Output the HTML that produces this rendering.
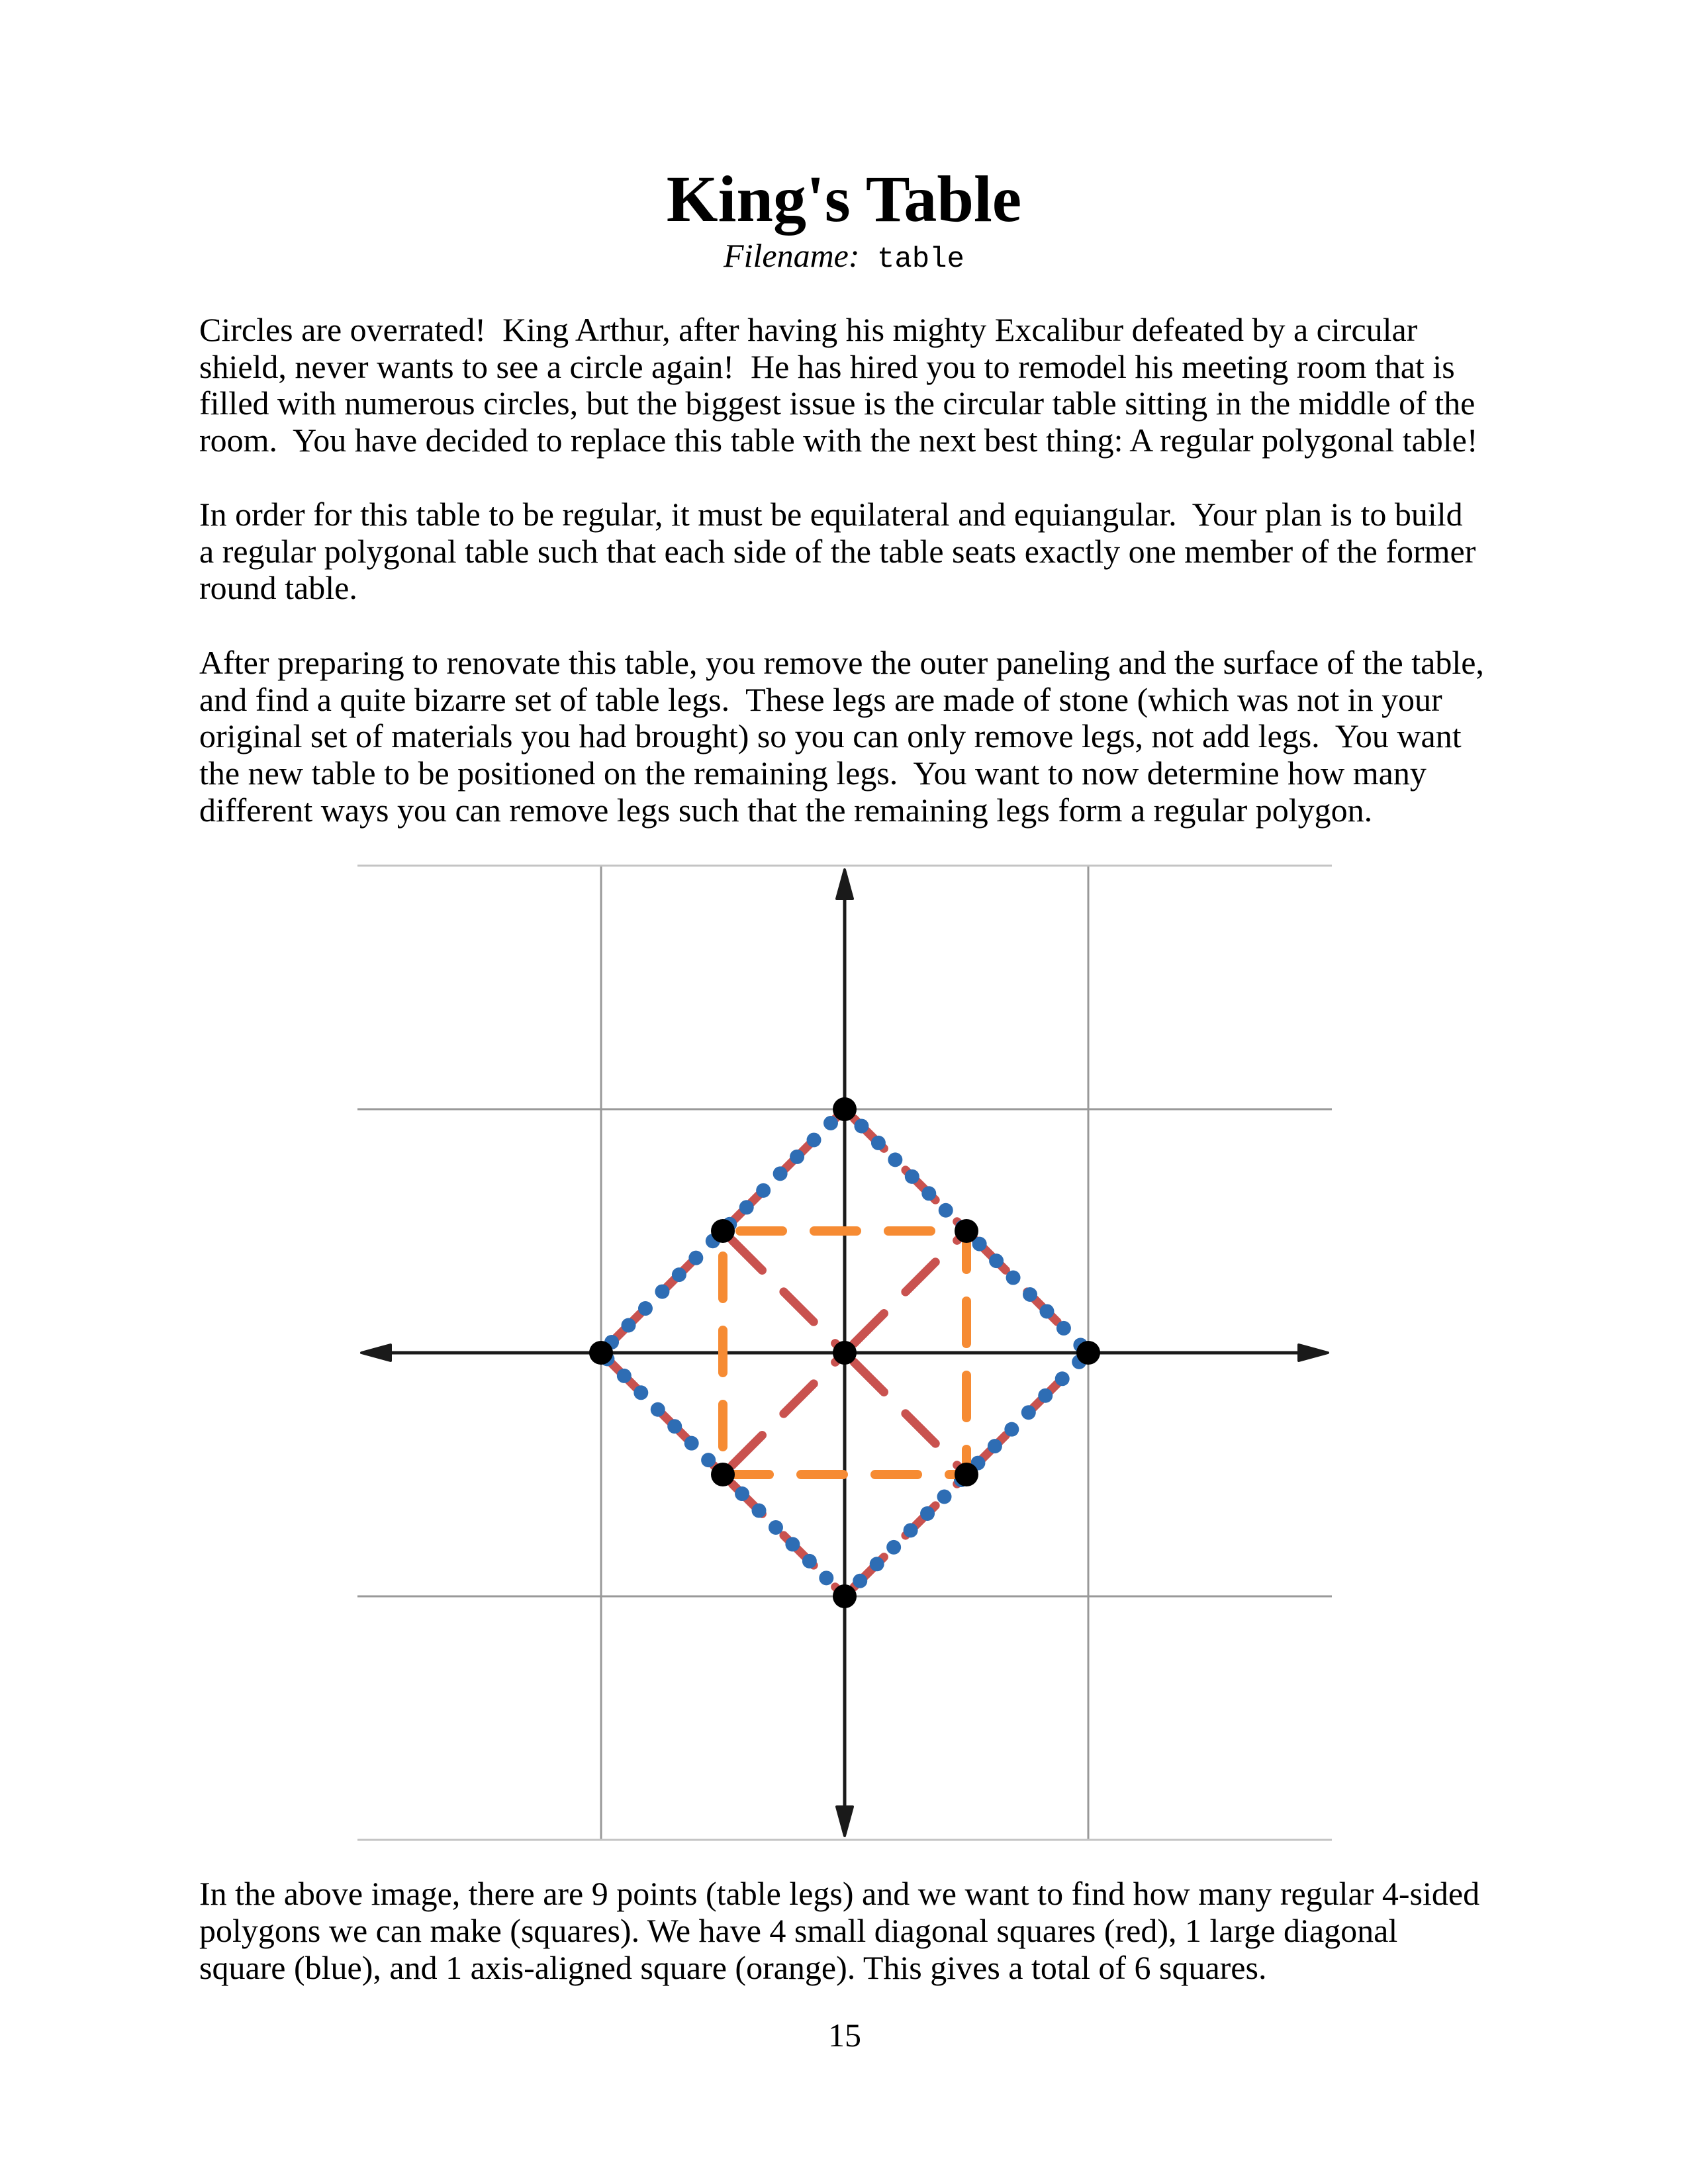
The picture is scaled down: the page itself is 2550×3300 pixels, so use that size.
<!DOCTYPE html>
<html><head><meta charset="utf-8"><style>
html,body{margin:0;padding:0;background:#fff;}
svg{display:block;}
text{white-space:pre;}
.b{font-family:"Liberation Serif",serif;font-size:50px;fill:#000;}
</style></head><body>
<svg id="page" width="2550" height="3300" viewBox="0 0 2550 3300" xmlns="http://www.w3.org/2000/svg" xml:space="preserve">
<rect width="2550" height="3300" fill="#fff"/>
<text x="1275" y="334" text-anchor="middle" font-family="Liberation Serif, serif" font-weight="bold" font-size="100">King's Table</text>
<text x="1275" y="403" text-anchor="middle" class="b"><tspan font-style="italic">Filename:</tspan><tspan font-family="Liberation Mono, monospace" font-size="44"> table</tspan></text>
<g>
<text x="301" y="515" class="b">Circles are overrated!  King Arthur, after having his mighty Excalibur defeated by a circular</text>
<text x="301" y="571" class="b">shield, never wants to see a circle again!  He has hired you to remodel his meeting room that is</text>
<text x="301" y="626" class="b">filled with numerous circles, but the biggest issue is the circular table sitting in the middle of the</text>
<text x="301" y="682" class="b">room.  You have decided to replace this table with the next best thing: A regular polygonal table!</text>
</g>
<g>
<text x="301" y="794" class="b">In order for this table to be regular, it must be equilateral and equiangular.  Your plan is to build</text>
<text x="301" y="850" class="b">a regular polygonal table such that each side of the table seats exactly one member of the former</text>
<text x="301" y="905" class="b">round table.</text>
</g>
<g>
<text x="301" y="1018" class="b">After preparing to renovate this table, you remove the outer paneling and the surface of the table,</text>
<text x="301" y="1074" class="b">and find a quite bizarre set of table legs.  These legs are made of stone (which was not in your</text>
<text x="301" y="1129" class="b">original set of materials you had brought) so you can only remove legs, not add legs.  You want</text>
<text x="301" y="1185" class="b">the new table to be positioned on the remaining legs.  You want to now determine how many</text>
<text x="301" y="1241" class="b">different ways you can remove legs such that the remaining legs form a regular polygon.</text>
</g>
<g id="chart"></g>
<g>
<text x="301" y="2878" class="b">In the above image, there are 9 points (table legs) and we want to find how many regular 4-sided</text>
<text x="301" y="2934" class="b">polygons we can make (squares). We have 4 small diagonal squares (red), 1 large diagonal</text>
<text x="301" y="2990" class="b">square (blue), and 1 axis-aligned square (orange). This gives a total of 6 squares.</text>
</g>
<text x="1276" y="3092" text-anchor="middle" class="b">15</text>
</svg>
<script>
const gridTicks = [-1, 1];
const edgeTicks = [-2, 2];
const legX = [0, 0.5, 1, 0.5, 0, -0.5, -1, -0.5, 0];
const legY = [1, 0.5, 0, -0.5, -1, -0.5, 0, 0.5, 0];
const redSquares = [
  [[0,1],[0.5,0.5],[0,0],[-0.5,0.5]],
  [[0.5,0.5],[1,0],[0.5,-0.5],[0,0]],
  [[0,0],[0.5,-0.5],[0,-1],[-0.5,-0.5]],
  [[-0.5,0.5],[0,0],[-0.5,-0.5],[-1,0]]
];
const blueSquare = [[0,1],[1,0],[0,-1],[-1,0]];
const orangeSquare = [[-0.5,0.5],[0.5,0.5],[0.5,-0.5],[-0.5,-0.5]];

const NS = "http://www.w3.org/2000/svg";
const chart = document.getElementById('chart');
const ox = 1276, oy = 2044, unit = 368;
const sx = v => ox + v * unit;
const sy = v => oy - v * unit;
function mk(tag, attrs) {
  const e = document.createElementNS(NS, tag);
  for (const k in attrs) e.setAttribute(k, attrs[k]);
  chart.appendChild(e);
  return e;
}
gridTicks.forEach(t => {
  const v = mk('line', {x1: sx(t), y1: sy(2), x2: sx(t), y2: sy(-2), stroke: '#999', 'stroke-width': 3});
  
  
  const h = mk('line', {x1: sx(-2), y1: sy(t), x2: sx(2), y2: sy(t), stroke: '#999', 'stroke-width': 3});
  
  
});
edgeTicks.forEach(t => {
  const h = mk('line', {x1: sx(-2), y1: sy(t), x2: sx(2), y2: sy(t), stroke: '#c4c4c4', 'stroke-width': 3});
  
  
});
const axCol = '#1a1a1a';
const xa = mk('line', {x1: sx(-2)+40, y1: sy(0), x2: sx(2)-40, y2: sy(0), stroke: axCol, 'stroke-width': 5});


const ya = mk('line', {x1: sx(0), y1: sy(2)+40, x2: sx(0), y2: sy(-2)-40, stroke: axCol, 'stroke-width': 5});


function arrow(tx, ty, dx, dy, name) {
  const L = 44, W = 12;
  const bx = tx - dx*L, by = ty - dy*L;
  const px = -dy*W, py = dx*W;
  const p = mk('polygon', {points: `${tx},${ty} ${bx+px},${by+py} ${bx-px},${by-py}`, fill: axCol, stroke: axCol, 'stroke-width': 4, 'stroke-linejoin': 'round'});
  
  
}
arrow(sx(0), sy(2)+6, 0, -1, 'arrow-up');
arrow(sx(0), sy(-2)-6, 0, 1, 'arrow-down');
arrow(sx(-2)+6, sy(0), -1, 0, 'arrow-left');
arrow(sx(2)-6, sy(0), 1, 0, 'arrow-right');
function poly(pts, attrs, name) {
  const s = pts.map(p => sx(p[0]) + ',' + sy(p[1])).join(' ');
  const e = mk('polygon', Object.assign({points: s, fill: 'none'}, attrs));
  
  
}
redSquares.forEach(sq => {
  sq.forEach((p, i) => {
    let a = p, b = sq[(i + 1) % sq.length];
    if (a[0] > b[0] || (a[0] === b[0] && a[1] < b[1])) { const t = a; a = b; b = t; }
    const e = mk('line', {x1: sx(a[0]), y1: sy(a[1]), x2: sx(b[0]), y2: sy(b[1]), stroke: '#c9524f', 'stroke-width': 13, 'stroke-dasharray': '64 46', 'stroke-dashoffset': '-20', 'stroke-linecap': 'round'});
    
    
  });
});
poly(blueSquare, {stroke: '#2e6db4', 'stroke-width': 22, 'stroke-dasharray': '0 36', 'stroke-linecap': 'round'}, 'blue-large-square');
poly(orangeSquare, {stroke: '#f68b33', 'stroke-width': 14, 'stroke-dasharray': '64 48', 'stroke-linecap': 'round', 'stroke-dashoffset': '-26'}, 'orange-square');
legX.forEach((x, i) => {
  const c = mk('circle', {cx: sx(x), cy: sy(legY[i]), r: 18, fill: '#000'});
  
  
});
</script>
</body></html>
